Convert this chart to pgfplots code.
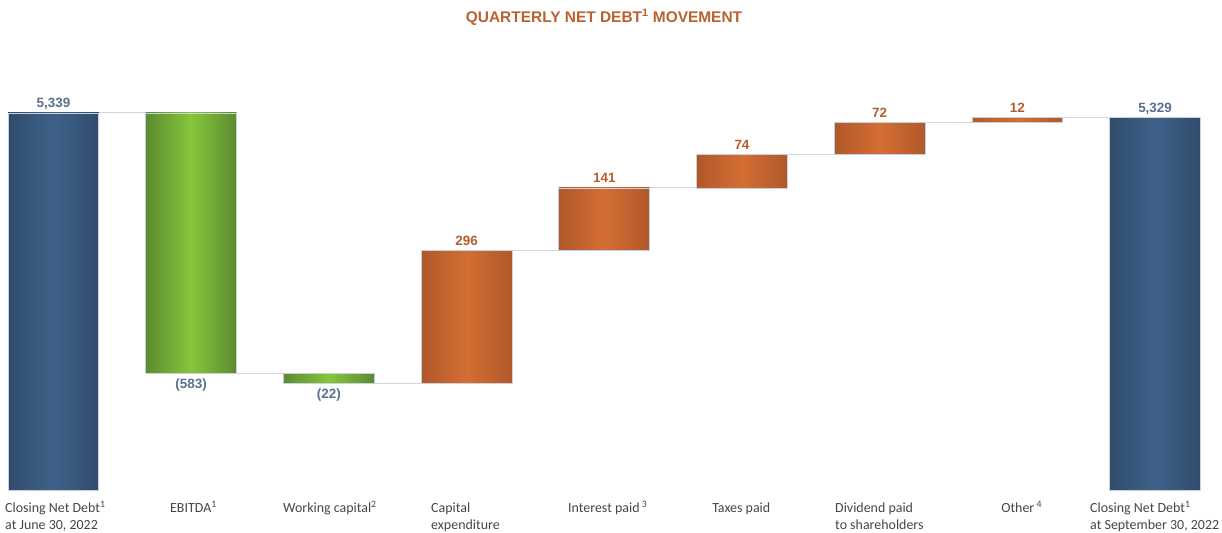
\documentclass[border=0pt]{standalone}
\usepackage{pgfplots}
\pgfplotsset{compat=1.18}
\usepackage{fontspec}
\setmainfont{Carlito}
\newfontfamily\valfont{Liberation Sans}
\definecolor{blueD}{HTML}{2F4C6C}
\definecolor{blueL}{HTML}{3F6189}
\definecolor{greenD}{HTML}{5B8B30}
\definecolor{greenL}{HTML}{86C63B}
\definecolor{orangeD}{HTML}{B0582A}
\definecolor{orangeL}{HTML}{D46E33}
\definecolor{edgec}{HTML}{C9D1DD}
\definecolor{connc}{HTML}{D0D6DF}
\definecolor{valblue}{HTML}{5B6F8E}
\definecolor{valorange}{HTML}{B65D2B}
\definecolor{titlec}{HTML}{B9612F}
\definecolor{labc}{HTML}{454545}
\begin{document}
\begin{tikzpicture}
\begin{axis}[
  name=ax,
  scale only axis,
  width=1222bp, height=533bp,
  xmin=-0.3885, xmax=8.486,
  ymin=4397.9, ymax=5592.2,
  hide axis, clip=false,
  every axis plot/.append style={line width=0.9pt},
]
\draw[draw=none] (rel axis cs:0,0) rectangle (rel axis cs:1,1);
% connectors
\addplot[connc, line width=1pt] coordinates {(0.33,5339) (0.67,5339)};
\addplot[connc, line width=1pt] coordinates {(1.33,4756) (1.67,4756)};
\addplot[connc, line width=1pt] coordinates {(2.33,4734) (2.67,4734)};
\addplot[connc, line width=1pt] coordinates {(3.33,5030) (3.67,5030)};
\addplot[connc, line width=1pt] coordinates {(4.33,5171) (4.67,5171)};
\addplot[connc, line width=1pt] coordinates {(5.33,5245) (5.67,5245)};
\addplot[connc, line width=1pt] coordinates {(6.33,5317) (6.67,5317)};
\addplot[connc, line width=1pt] coordinates {(7.33,5329) (7.67,5329)};
% bars
\addplot[draw=edgec, left color=blueD, right color=blueD, middle color=blueL]
  coordinates {(-0.33,4494) (0.33,4494) (0.33,5339) (-0.33,5339)} -- cycle;
\addplot[draw=edgec, left color=greenD, right color=greenD, middle color=greenL]
  coordinates {(0.67,4756) (1.33,4756) (1.33,5339) (0.67,5339)} -- cycle;
\addplot[draw=edgec, left color=greenD, right color=greenD, middle color=greenL]
  coordinates {(1.67,4734) (2.33,4734) (2.33,4756) (1.67,4756)} -- cycle;
\addplot[draw=edgec, left color=orangeD, right color=orangeD, middle color=orangeL]
  coordinates {(2.67,4734) (3.33,4734) (3.33,5030) (2.67,5030)} -- cycle;
\addplot[draw=edgec, left color=orangeD, right color=orangeD, middle color=orangeL]
  coordinates {(3.67,5030) (4.33,5030) (4.33,5171) (3.67,5171)} -- cycle;
\addplot[draw=edgec, left color=orangeD, right color=orangeD, middle color=orangeL]
  coordinates {(4.67,5171) (5.33,5171) (5.33,5245) (4.67,5245)} -- cycle;
\addplot[draw=edgec, left color=orangeD, right color=orangeD, middle color=orangeL]
  coordinates {(5.67,5245) (6.33,5245) (6.33,5317) (5.67,5317)} -- cycle;
\addplot[draw=edgec, left color=orangeD, right color=orangeD, middle color=orangeL]
  coordinates {(6.67,5317) (7.33,5317) (7.33,5329) (6.67,5329)} -- cycle;
\addplot[draw=edgec, left color=blueD, right color=blueD, middle color=blueL]
  coordinates {(7.67,4494) (8.33,4494) (8.33,5329) (7.67,5329)} -- cycle;
% value labels
\tikzset{val/.style={anchor=base, font=\valfont\bfseries\fontsize{13.5}{16}\selectfont, inner sep=0pt}}
\node[val, valblue, yshift=5bp] at (axis cs:0,5339) {5,339};
\node[val, valblue, yshift=-15bp] at (axis cs:1,4756) {(583)};
\node[val, valblue, yshift=-15bp] at (axis cs:2,4734) {(22)};
\node[val, valorange, yshift=5bp] at (axis cs:3,5030) {296};
\node[val, valorange, yshift=5bp] at (axis cs:4,5171) {141};
\node[val, valorange, yshift=5bp] at (axis cs:5,5245) {74};
\node[val, valorange, yshift=5bp] at (axis cs:6,5317) {72};
\node[val, valorange, yshift=5bp] at (axis cs:7,5329) {12};
\node[val, valblue, yshift=5bp] at (axis cs:8,5329) {5,329};
% title
\node[anchor=base, inner sep=0pt, titlec, font=\valfont\bfseries\fontsize{15.5}{18}\selectfont]
  at (rel axis cs:0.4943,0.9587) {QUARTERLY NET DEBT\textsuperscript{1} MOVEMENT};
% category labels
\tikzset{cat/.style={anchor=base west, inner sep=0pt, labc, font=\fontsize{14}{18}\selectfont}}
\node[cat] at (rel axis cs:0.0041,0.0385) {Closing Net Debt\textsuperscript{1}};
\node[cat] at (rel axis cs:0.0041,0.0070) {at June 30, 2022};
\node[cat] at (rel axis cs:0.1391,0.0385) {EBITDA\textsuperscript{1}};
\node[cat] at (rel axis cs:0.2316,0.0385) {Working capital\textsuperscript{2}};
\node[cat] at (rel axis cs:0.3527,0.0385) {Capital};
\node[cat] at (rel axis cs:0.3527,0.0070) {expenditure};
\node[cat] at (rel axis cs:0.4648,0.0385) {Interest paid\,\textsuperscript{3}};
\node[cat] at (rel axis cs:0.5827,0.0385) {Taxes paid};
\node[cat] at (rel axis cs:0.6833,0.0385) {Dividend paid};
\node[cat] at (rel axis cs:0.6833,0.0070) {to shareholders};
\node[cat] at (rel axis cs:0.8192,0.0385) {Other\,\textsuperscript{4}};
\node[cat] at (rel axis cs:0.8920,0.0385) {Closing Net Debt\textsuperscript{1}};
\node[cat] at (rel axis cs:0.8920,0.0070) {at September 30, 2022};
\end{axis}
\pgfresetboundingbox
\useasboundingbox (ax.south west) rectangle (ax.north east);
\end{tikzpicture}
\end{document}
